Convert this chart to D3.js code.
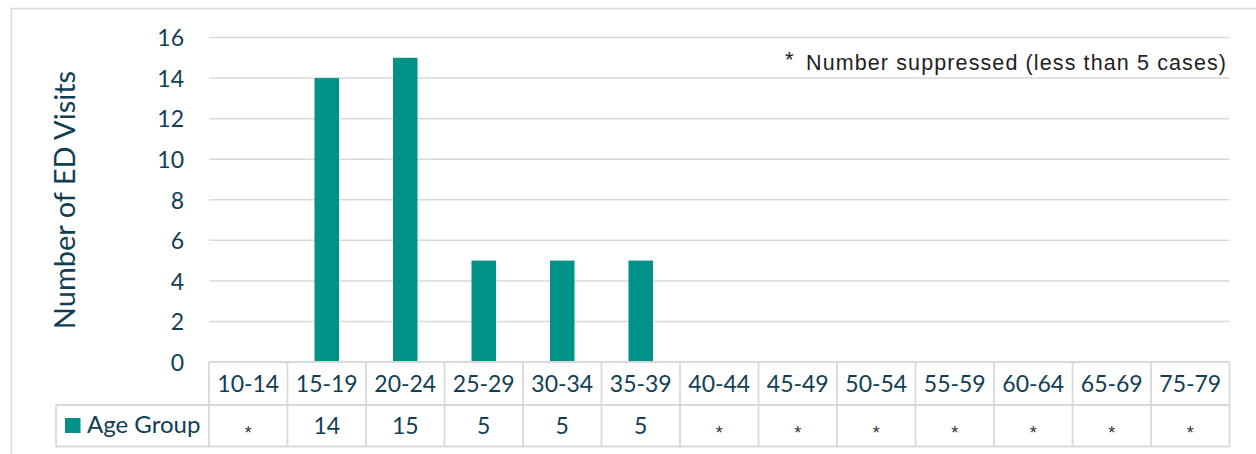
<!DOCTYPE html>
<html><head><meta charset="utf-8">
<script src="https://cdn.jsdelivr.net/npm/d3@7"></script>
<style>
html,body{margin:0;padding:0;background:#fff;}
svg{display:block;}
</style></head>
<body>
<svg id="c" width="1256" height="454"></svg>
<script>
const categories = ["10-14","15-19","20-24","25-29","30-34","35-39","40-44","45-49","50-54","55-59","60-64","65-69","75-79"];
const values = [null,14,15,5,5,5,null,null,null,null,null,null,null]; // null = suppressed (*)
const yTicks = [0,2,4,6,8,10,12,14,16];
const seriesName = "Age Group";
const yTitle = "Number of ED Visits";
const note = "Number suppressed (less than 5 cases)";

(function(){
const svg = d3.select("#c");
const W = 1256, H = 454;
const pLeft = 209, pRight = 1229.5, pTop = 37.5, base = 362;
const row1 = 405, row2 = 446.5, legendLeft = 56;
const teal = "#009189", navy = "#0f3e55", grid = "#d9d9d9";
const font = "Lato, 'Open Sans', sans-serif";

// outer border
svg.append("path").attr("d", `M11.5,${H} L11.5,8.5 L${W},8.5`).attr("fill","none").attr("stroke",grid).attr("stroke-width",1.5);

const x = d3.scaleBand().domain(categories).range([pLeft, pRight]).paddingInner(0).paddingOuter(0);
const y = d3.scaleLinear().domain([0,16]).range([base, pTop]);

// gridlines
svg.append("g").selectAll("line").data(yTicks.filter(d=>d>0)).join("line")
  .attr("x1", pLeft).attr("x2", pRight).attr("y1", d=>y(d)).attr("y2", d=>y(d))
  .attr("stroke", grid).attr("stroke-width", 1.5);

// y axis labels
const yAxis = d3.axisLeft(y).tickValues(yTicks).tickSize(0).tickPadding(0);
const ya = svg.append("g").attr("transform", `translate(184,0)`).call(yAxis);
ya.select(".domain").remove();
ya.selectAll("text").attr("font-family", font).attr("font-size", 23).attr("fill", navy).attr("dy","0.36em");

// y title
svg.append("text").attr("transform", `translate(75,200) rotate(-90)`).attr("text-anchor","middle")
  .attr("font-family", font).attr("font-size", 29).attr("fill", navy).text(yTitle);

// bars
const bw = 24.5;
svg.append("g").selectAll("rect").data(categories.map((c,i)=>({c, v: values[i]})).filter(d=>d.v!=null)).join("rect")
  .attr("x", d=>x(d.c)+x.bandwidth()/2-bw/2).attr("width", bw)
  .attr("y", d=>y(d.v)).attr("height", d=>base-y(d.v)).attr("fill", teal);

// data table lines
const tg = svg.append("g").attr("stroke", grid).attr("stroke-width", 1.8).attr("fill","none");
tg.append("line").attr("x1", pLeft).attr("x2", pRight).attr("y1", base).attr("y2", base);
tg.append("line").attr("x1", legendLeft).attr("x2", pRight).attr("y1", row1).attr("y2", row1);
tg.append("line").attr("x1", legendLeft).attr("x2", pRight).attr("y1", row2).attr("y2", row2);
tg.append("line").attr("x1", legendLeft).attr("x2", legendLeft).attr("y1", row1).attr("y2", row2);
const edges = categories.map(c=>x(c)).concat([pRight]);
tg.selectAll("line.v").data(edges).join("line").attr("class","v")
  .attr("x1", d=>d).attr("x2", d=>d).attr("y1", base).attr("y2", row2);

// category labels
svg.append("g").selectAll("text").data(categories).join("text")
  .attr("x", d=>x(d)+x.bandwidth()/2).attr("y", 392).attr("text-anchor","middle")
  .attr("font-family", font).attr("font-size", 23).attr("fill", navy).text(d=>d);

// values row
svg.append("g").selectAll("text").data(categories.map((c,i)=>({c, v: values[i]}))).join("text")
  .attr("x", d=>x(d.c)+x.bandwidth()/2).attr("y", d=> d.v==null ? 439 : 434)
  .attr("text-anchor","middle")
  .attr("font-family", d=> d.v==null ? "Liberation Sans, Arial, sans-serif" : font)
  .attr("font-size", d=> d.v==null ? 18 : 23).attr("fill", d=> d.v==null ? "#333" : navy)
  .text(d=> d.v==null ? "*" : d.v);

// legend
svg.append("rect").attr("x", 65).attr("y", 418).attr("width", 15.5).attr("height", 15).attr("fill", teal);
svg.append("text").attr("x", 87).attr("y", 433).attr("font-family", font).attr("font-size", 24).attr("fill", navy).text(seriesName);

// note
svg.append("text").attr("x", 785).attr("y", 67).attr("font-family","Liberation Sans, Arial, sans-serif").attr("font-size", 22).attr("fill","#222").text("*");
svg.append("text").attr("x", 806).attr("y", 70).attr("font-family","Liberation Sans, Arial, sans-serif").attr("font-size", 21.5)
  .attr("textLength", 420).attr("lengthAdjust","spacing").attr("fill","#222").text(note);
})();
</script>
</body></html>
